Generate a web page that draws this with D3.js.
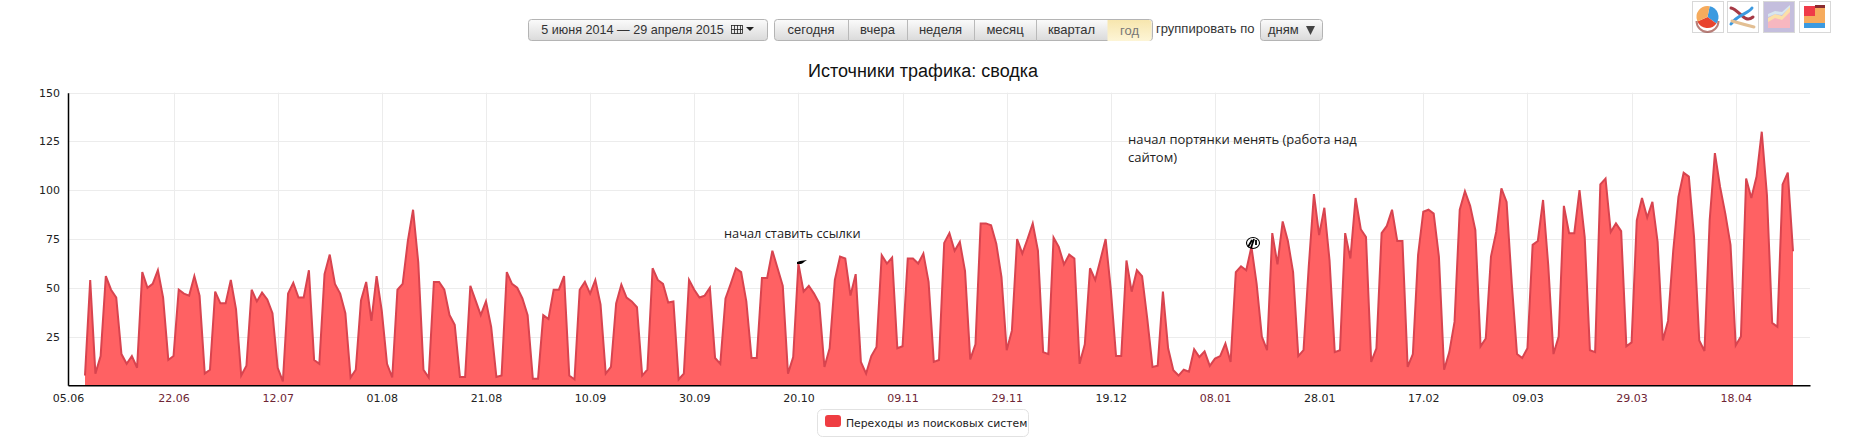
<!DOCTYPE html>
<html><head><meta charset="utf-8">
<style>html,body{margin:0;padding:0;background:#fff}svg{display:block}</style>
<script src="https://cdn.jsdelivr.net/npm/d3@7"></script></head><body>
<svg id="c" width="1849" height="438"></svg>
<script>
const seriesName = "Переходы из поисковых систем";
const startDate = "2014-06-05";
const visits = [
5,54,6,15,56,49,45,16,11,15,9,58,50,52,59,45,13,15,49,47,46,56,46,6,8,48,42,42,54,39,
5,10,49,43,47.5,44,37,9,2,47,52.5,45,45,59,13,11,57,67,52,47,37,4,8,43.5,53,33,56,38,11,4,
49,52,74,90,63,8,4,53,53,49,36,31,4.3,4.3,51,43.5,36,43,30,4.3,5,58,52,50,44.5,36,3.4,3.4,36,34,
49,49,56,5,3,49,53,47,54,41.5,6,9.4,42,51.6,45,43,40,5,8,60,54,52,42.4,43,3,6,54,49,45,46,
50,14,11,44.5,52,60,58,43,14,14,55,55,69,60,51,6,14.5,62.4,48,51,47,42,9.4,19,54,66,65,46,57,12,
6,15,19.6,66.7,62.4,65.5,19,20,65,65,62.4,67.5,53,12,13,73,78,69,73.5,58.5,13.3,21,83,83,82,72.6,55.5,18,28,75,
67.5,75,83,69,17,16,75.7,71,62,67,65,11,21,60,54,64.4,75,49,15,15,64,48,59,56,34,9.4,10,48,19,7.7,
5,8,7,18.5,14.5,17.4,10,13.7,15,21.4,12,58,61,59,71,52,25,18,78,62,84,74,58,15,18,60.6,98,77,91,64,
17,18,78,65,96,80,76,12,19,78,81.7,90,74,74,9.4,16,66.7,89,90,88,66,8,17,32.5,90,99.5,92,79.5,20,24,
66,78.6,101,94,52,16,14,19,72,74,95,61.5,16,25,92,78,78,100,76,18,17,103,106,78.6,83,79,20,22,84.6,96,
86,94,73.5,23,33,69,96.6,109,107,76,23,17.6,84.6,119,101.7,88,72,20.5,25,106,96,107,130,97.4,32,30,103,109,68.7
];
const yTicks = [25,50,75,100,125,150];
const xTickLabels = ["05.06","22.06","12.07","01.08","21.08","10.09","30.09","20.10","09.11","29.11","19.12","08.01","28.01","17.02","09.03","29.03","18.04"];
const xTickDates = [null,"2014-06-22","2014-07-12","2014-08-01","2014-08-21","2014-09-10","2014-09-30","2014-10-20","2014-11-09","2014-11-29","2014-12-19","2015-01-08","2015-01-28","2015-02-17","2015-03-09","2015-03-29","2015-04-18"];
const holidayLabels = ["22.06","12.07","09.11","29.11","08.01","29.03","18.04"];
const rangeLabel = "5 июня 2014 — 29 апреля 2015";
const periodButtons = ["сегодня","вчера","неделя","месяц","квартал","год"];
const activePeriod = "год";
const groupLabel = "группировать по";
const groupValue = "дням";
const chartTitle = "Источники трафика: сводка";
const note1 = ["начал ставить ссылки"];
const note2 = ["начал портянки менять (работа над","сайтом)"];

const svg = d3.select("#c");
const L=68,R=1810,T=92.7,B=385.3;
const t0 = new Date(startDate+"T00:00:00Z");
const x = d3.scaleLinear().domain([0,visits.length-1]).range([85,1793]);
const y = d3.scaleLinear().domain([0,150]).range([B,T]);
const xAxisScale = x.copy().domain([x.invert(L),x.invert(R)]).range([L,R]);
const tickPos = xTickDates.map(d=> d? d3.utcDay.count(t0,new Date(d+"T00:00:00Z")) : x.invert(L));

const defs = svg.append("defs");
const g1 = defs.append("linearGradient").attr("id","btn").attr("x1",0).attr("x2",0).attr("y1",0).attr("y2",1);
g1.append("stop").attr("offset","0").attr("stop-color","#fbfbfb");
g1.append("stop").attr("offset","1").attr("stop-color","#dadada");
const g2 = defs.append("linearGradient").attr("id","act").attr("x1",0).attr("x2",0).attr("y1",0).attr("y2",1);
g2.append("stop").attr("offset","0").attr("stop-color","#f7e6ae");
g2.append("stop").attr("offset","1").attr("stop-color","#fdf5d6");

// grid
svg.append("g").selectAll("line").data(yTicks).join("line")
 .attr("x1",L).attr("x2",R).attr("y1",d=>Math.round(y(d))+.5).attr("y2",d=>Math.round(y(d))+.5).attr("stroke","#ececec");
svg.append("g").selectAll("line").data(tickPos.slice(1)).join("line")
 .attr("y1",T).attr("y2",B).attr("x1",d=>Math.round(x(d))+.5).attr("x2",d=>Math.round(x(d))+.5).attr("stroke","#ececec");

// area + line
const area = d3.area().x((d,i)=>x(i)).y0(B).y1(d=>y(d));
const line = d3.line().x((d,i)=>x(i)).y(d=>y(d));
svg.append("path").datum(visits).attr("d",area).attr("fill","#ff6163");
svg.append("path").datum(visits).attr("d",line).attr("fill","none").attr("stroke","#d8444f").attr("stroke-width",2).attr("stroke-linejoin","miter");

// axes
const ax = svg.append("g").attr("transform",`translate(0,${B})`).call(
  d3.axisBottom(xAxisScale).tickValues(tickPos).tickSize(0).tickPadding(9).tickFormat((d,i)=>xTickLabels[i]));
ax.select(".domain").attr("stroke","#000").attr("stroke-width",1.5);
ax.selectAll("text").attr("font-family","'DejaVu Sans'").attr("font-size",11)
  .attr("fill",(d,i)=>holidayLabels.includes(xTickLabels[i])?"#6e2534":"#222");
const ay = svg.append("g").attr("transform",`translate(${L},0)`).call(
  d3.axisLeft(y).tickValues(yTicks).tickSize(0).tickPadding(8));
ay.select(".domain").attr("stroke","#000").attr("stroke-width",1.5);
ay.selectAll("text").attr("font-family","'DejaVu Sans'").attr("font-size",11).attr("fill","#222");

// title
svg.append("text").attr("x",923).attr("y",77).attr("text-anchor","middle")
 .attr("font-family","'Liberation Sans'").attr("font-size",18).attr("fill","#111").text(chartTitle);

// notes
const noteFont="'Open Sans'";
svg.append("g").selectAll("text").data(note1).join("text").attr("x",724).attr("y",238)
 .attr("font-family",noteFont).attr("font-size",12.8).attr("fill","#222").text(d=>d);
svg.append("g").selectAll("text").data(note2).join("text").attr("x",1128).attr("y",(d,i)=>144+i*18)
 .attr("font-family",noteFont).attr("font-size",13).attr("fill","#222").text(d=>d);

// cursors
svg.append("path").attr("d","M797 262l3-1 7-1-3 2-1 1-2 1h-4z").attr("fill","#000");
const sc = svg.append("g").attr("fill","none").attr("stroke","#000");
sc.append("ellipse").attr("cx",1253).attr("cy",243).attr("rx",6.5).attr("ry",5.5).attr("stroke-width",1.1);
sc.append("path").attr("d","M1248 247l4-7M1251 248l3-9M1256 240v5").attr("stroke-width",1.8);

// toolbar
const btnFont="'Liberation Sans'";
function btn(x0,x1,label,cx,size){
  svg.append("rect").attr("x",x0+.5).attr("y",19.5).attr("width",x1-x0).attr("height",21).attr("rx",3)
   .attr("fill","url(#btn)").attr("stroke","#b4b4b4");
  if(label) svg.append("text").attr("x",cx).attr("y",34).attr("text-anchor","middle")
   .attr("font-family",btnFont).attr("font-size",size).attr("fill","#333").text(label);
}
btn(528,767,rangeLabel,632.5,12.6);
// calendar glyph
const cal = svg.append("g").attr("stroke","#222").attr("stroke-width",.8).attr("fill","none");
cal.append("rect").attr("x",731.5).attr("y",25.5).attr("width",11).attr("height",8);
[734.5,737.5,740.5].forEach(v=>cal.append("line").attr("x1",v).attr("x2",v).attr("y1",25).attr("y2",34));
cal.append("line").attr("x1",731).attr("x2",743).attr("y1",29.5).attr("y2",29.5);
svg.append("path").attr("d","M746 27h8l-4 4z").attr("fill","#222");

// period group
const seps=[774,848,907,974,1036,1107,1152];
btn(774,1152);
svg.append("path").attr("d","M1107.5 20h41q3 0 3 3v15q0 3-3 3h-41z").attr("fill","url(#act)");
svg.append("g").selectAll("line").data(seps.slice(1,5)).join("line")
 .attr("x1",d=>d+.5).attr("x2",d=>d+.5).attr("y1",20).attr("y2",41).attr("stroke","#b9b9b9");
svg.append("g").selectAll("text").data(periodButtons).join("text")
 .attr("x",(d,i)=>(seps[i]+seps[i+1])/2).attr("y",(d,i)=>d===activePeriod?35:34).attr("text-anchor","middle")
 .attr("font-family",btnFont).attr("font-size",13).attr("fill",d=>d===activePeriod?"#777":"#333").text(d=>d);

svg.append("text").attr("x",1156).attr("y",33).attr("font-family",btnFont).attr("font-size",13).attr("fill","#333").text(groupLabel);
btn(1260,1322);
svg.append("text").attr("x",1268).attr("y",34).attr("font-family",btnFont).attr("font-size",13).attr("fill","#333").text(groupValue);
svg.append("path").attr("d","M1306 26h9l-4.5 9z").attr("fill","#444");

// icons
const iconX=[1692,1727,1763,1799];
svg.append("g").selectAll("rect").data(iconX).join("rect").attr("x",d=>d+.5).attr("y",1.5).attr("width",31).attr("height",31)
 .attr("fill",(d,i)=>i==2?"#c4bedd":"#fff").attr("stroke","#d8d8d8");
// pie
const pieG=svg.append("g").attr("transform","translate(1707.5,17)");
const arc=d3.arc().innerRadius(0).outerRadius(11);
[[0.2,2.2,"#3c9ae0"],[2.2,4.3,"#e8432e"],[4.3,6.483,"#f6ab5d"]].forEach(a=>pieG.append("path").attr("d",arc({startAngle:a[0],endAngle:a[1]})).attr("fill",a[2]));
pieG.append("path").attr("d","M-11 4A11 11 0 0 0 11 4").attr("fill","none").attr("stroke","#8a2a20").attr("stroke-width",2).attr("opacity",.6);
// crossing lines
const cr=svg.append("g").attr("fill","none").attr("stroke-width",3).attr("stroke-linecap","round");
cr.append("path").attr("d","M1731 8C1740 10,1744 24,1753 17").attr("stroke","#a63a45");
cr.append("path").attr("d","M1731 24C1738 14,1748 14,1752 8").attr("stroke","#3c9ae0");
cr.append("path").attr("d","M1732 21C1742 24,1746 25,1754 27").attr("stroke","#e3bf93");
// stacked thumb
svg.append("path").attr("d","M1768 28V18l7-3 7 1 8-10v22z").attr("fill","#f7b7c0");
svg.append("path").attr("d","M1768 18l7-4 7 2 8-10v6l-8 8-7-2-7 4z").attr("fill","#fbe0a8");
svg.append("path").attr("d","M1768 14l7-3 7 1 8-7v2l-8 8-7-1-7 3z").attr("fill","#d7e6ef");
// treemap
[[1804,6,11,10,"#ef3a48"],[1815,6,10,10,"#f6ab5d"],[1804,16,11,7,"#f6ab5d"],[1815,16,10,7,"#f6ab5d"],[1804,23,11,5,"#3c9ae0"],[1815,23,10,5,"#3c9ae0"]]
 .forEach(r=>svg.append("rect").attr("x",r[0]).attr("y",r[1]).attr("width",r[2]).attr("height",r[3]).attr("fill",r[4]));
svg.append("rect").attr("x",1815).attr("y",5).attr("width",10).attr("height",3).attr("fill","#8a2a30");

// legend
svg.append("rect").attr("x",817.5).attr("y",409.5).attr("width",211).attr("height",27).attr("rx",5).attr("fill","#fff").attr("stroke","#e2e2e2");
svg.append("rect").attr("x",825).attr("y",415).attr("width",16).attr("height",12).attr("rx",3).attr("fill","#ef3d42");
svg.append("text").attr("x",846).attr("y",427).attr("font-family","'DejaVu Sans'").attr("font-size",10.8).attr("fill","#222").text(seriesName);
</script></body></html>
